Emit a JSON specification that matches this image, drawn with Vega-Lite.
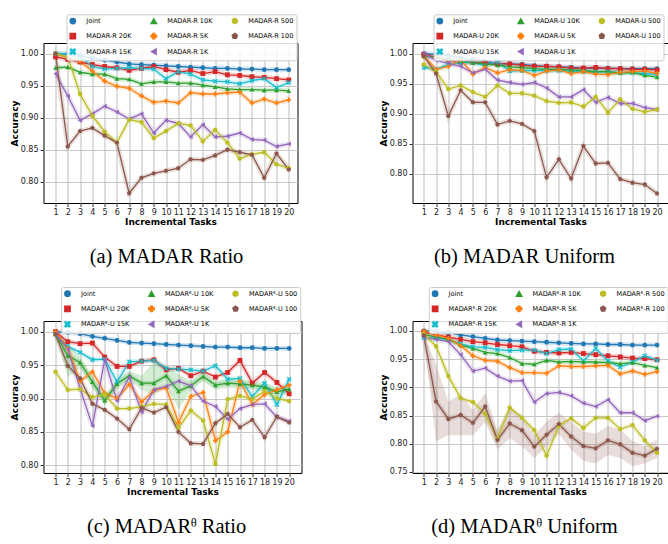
{
"$schema":"https://vega.github.io/schema/vega-lite/v6.json",
"padding":{"left":9.5,"top":13,"right":0,"bottom":0},
"config":{
 "font":"DejaVu Sans",
 "view":{"stroke":"black","strokeWidth":1},
 "axis":{"domain":false,"grid":true,"gridColor":"#c8c8c8","gridWidth":1.2,"tickColor":"#000","tickSize":3.5,"tickWidth":0.8,"labelFont":"DejaVu Sans","labelFontSize":8,"labelColor":"#1a1a1a","labelPadding":2,"titleFont":"DejaVu Sans","titleFontSize":9,"titleFontWeight":"bold","titleColor":"#000"},
 "axisX":{"titlePadding":1,"labelAngle":0,"labelFlush":false},
 "axisY":{"titlePadding":1,"labelFlush":false},
 "legend":{"columns":3,"direction":"vertical","columnPadding":15,"rowPadding":2.5,"padding":2.8,"labelFontSize":6.5,"labelFont":"DejaVu Sans","labelColor":"#000","labelOffset":10,"symbolSize":28,"symbolOpacity":1,"strokeColor":"#cccccc","fillColor":"rgba(255,255,255,0.85)","cornerRadius":2},
 "title":{"orient":"bottom","font":"Liberation Serif","fontSize":20.5,"fontWeight":"normal","color":"#000","offset":20,"anchor":"middle","frame":"group"}
},
"data":{"values":[
{"p":"a","s":"Joint","t":1,"v":1},{"p":"a","s":"Joint","t":2,"v":0.999},{"p":"a","s":"Joint","t":3,"v":0.997},{"p":"a","s":"Joint","t":4,"v":0.993},{"p":"a","s":"Joint","t":5,"v":0.99},{"p":"a","s":"Joint","t":6,"v":0.987},{"p":"a","s":"Joint","t":7,"v":0.984},{"p":"a","s":"Joint","t":8,"v":0.983},{"p":"a","s":"Joint","t":9,"v":0.982},{"p":"a","s":"Joint","t":10,"v":0.981},{"p":"a","s":"Joint","t":11,"v":0.98},{"p":"a","s":"Joint","t":12,"v":0.979},{"p":"a","s":"Joint","t":13,"v":0.978},{"p":"a","s":"Joint","t":14,"v":0.977},{"p":"a","s":"Joint","t":15,"v":0.977},{"p":"a","s":"Joint","t":16,"v":0.976},{"p":"a","s":"Joint","t":17,"v":0.976},{"p":"a","s":"Joint","t":18,"v":0.975},{"p":"a","s":"Joint","t":19,"v":0.975},{"p":"a","s":"Joint","t":20,"v":0.975},
{"p":"a","s":"20K","t":1,"v":0.995},{"p":"a","s":"20K","t":2,"v":0.991},{"p":"a","s":"20K","t":3,"v":0.987},{"p":"a","s":"20K","t":4,"v":0.983},{"p":"a","s":"20K","t":5,"v":0.98},{"p":"a","s":"20K","t":6,"v":0.978},{"p":"a","s":"20K","t":7,"v":0.974},{"p":"a","s":"20K","t":8,"v":0.977},{"p":"a","s":"20K","t":9,"v":0.98},{"p":"a","s":"20K","t":10,"v":0.975},{"p":"a","s":"20K","t":11,"v":0.971},{"p":"a","s":"20K","t":12,"v":0.974},{"p":"a","s":"20K","t":13,"v":0.969},{"p":"a","s":"20K","t":14,"v":0.972},{"p":"a","s":"20K","t":15,"v":0.967},{"p":"a","s":"20K","t":16,"v":0.966},{"p":"a","s":"20K","t":17,"v":0.964},{"p":"a","s":"20K","t":18,"v":0.963},{"p":"a","s":"20K","t":19,"v":0.961},{"p":"a","s":"20K","t":20,"v":0.959},
{"p":"a","s":"15K","t":1,"v":1},{"p":"a","s":"15K","t":2,"v":0.999},{"p":"a","s":"15K","t":3,"v":0.996},{"p":"a","s":"15K","t":4,"v":0.98},{"p":"a","s":"15K","t":5,"v":0.976},{"p":"a","s":"15K","t":6,"v":0.977},{"p":"a","s":"15K","t":7,"v":0.978},{"p":"a","s":"15K","t":8,"v":0.977},{"p":"a","s":"15K","t":9,"v":0.976},{"p":"a","s":"15K","t":10,"v":0.961},{"p":"a","s":"15K","t":11,"v":0.972},{"p":"a","s":"15K","t":12,"v":0.968},{"p":"a","s":"15K","t":13,"v":0.959},{"p":"a","s":"15K","t":14,"v":0.957},{"p":"a","s":"15K","t":15,"v":0.956},{"p":"a","s":"15K","t":16,"v":0.953},{"p":"a","s":"15K","t":17,"v":0.958},{"p":"a","s":"15K","t":18,"v":0.961},{"p":"a","s":"15K","t":19,"v":0.947},{"p":"a","s":"15K","t":20,"v":0.955},
{"p":"a","s":"10K","t":1,"v":0.978},{"p":"a","s":"10K","t":2,"v":0.979},{"p":"a","s":"10K","t":3,"v":0.971},{"p":"a","s":"10K","t":4,"v":0.968},{"p":"a","s":"10K","t":5,"v":0.968},{"p":"a","s":"10K","t":6,"v":0.961},{"p":"a","s":"10K","t":7,"v":0.96},{"p":"a","s":"10K","t":8,"v":0.953},{"p":"a","s":"10K","t":9,"v":0.956},{"p":"a","s":"10K","t":10,"v":0.956},{"p":"a","s":"10K","t":11,"v":0.954},{"p":"a","s":"10K","t":12,"v":0.954},{"p":"a","s":"10K","t":13,"v":0.951},{"p":"a","s":"10K","t":14,"v":0.948},{"p":"a","s":"10K","t":15,"v":0.945},{"p":"a","s":"10K","t":16,"v":0.944},{"p":"a","s":"10K","t":17,"v":0.944},{"p":"a","s":"10K","t":18,"v":0.943},{"p":"a","s":"10K","t":19,"v":0.943},{"p":"a","s":"10K","t":20,"v":0.942},
{"p":"a","s":"5K","t":1,"v":1},{"p":"a","s":"5K","t":2,"v":0.994},{"p":"a","s":"5K","t":3,"v":0.988},{"p":"a","s":"5K","t":4,"v":0.973},{"p":"a","s":"5K","t":5,"v":0.957},{"p":"a","s":"5K","t":6,"v":0.949},{"p":"a","s":"5K","t":7,"v":0.946},{"p":"a","s":"5K","t":8,"v":0.934},{"p":"a","s":"5K","t":9,"v":0.924},{"p":"a","s":"5K","t":10,"v":0.926},{"p":"a","s":"5K","t":11,"v":0.923},{"p":"a","s":"5K","t":12,"v":0.939},{"p":"a","s":"5K","t":13,"v":0.937},{"p":"a","s":"5K","t":14,"v":0.937},{"p":"a","s":"5K","t":15,"v":0.939},{"p":"a","s":"5K","t":16,"v":0.94},{"p":"a","s":"5K","t":17,"v":0.923},{"p":"a","s":"5K","t":18,"v":0.929},{"p":"a","s":"5K","t":19,"v":0.923},{"p":"a","s":"5K","t":20,"v":0.928},
{"p":"a","s":"1K","t":1,"v":0.969},{"p":"a","s":"1K","t":2,"v":0.934},{"p":"a","s":"1K","t":3,"v":0.896},{"p":"a","s":"1K","t":4,"v":0.906},{"p":"a","s":"1K","t":5,"v":0.918},{"p":"a","s":"1K","t":6,"v":0.909},{"p":"a","s":"1K","t":7,"v":0.898},{"p":"a","s":"1K","t":8,"v":0.906},{"p":"a","s":"1K","t":9,"v":0.876},{"p":"a","s":"1K","t":10,"v":0.896},{"p":"a","s":"1K","t":11,"v":0.891},{"p":"a","s":"1K","t":12,"v":0.87},{"p":"a","s":"1K","t":13,"v":0.889},{"p":"a","s":"1K","t":14,"v":0.87},{"p":"a","s":"1K","t":15,"v":0.871},{"p":"a","s":"1K","t":16,"v":0.876},{"p":"a","s":"1K","t":17,"v":0.866},{"p":"a","s":"1K","t":18,"v":0.865},{"p":"a","s":"1K","t":19,"v":0.855},{"p":"a","s":"1K","t":20,"v":0.859},
{"p":"a","s":"500","t":1,"v":1},{"p":"a","s":"500","t":2,"v":0.995},{"p":"a","s":"500","t":3,"v":0.937},{"p":"a","s":"500","t":4,"v":0.903},{"p":"a","s":"500","t":5,"v":0.878},{"p":"a","s":"500","t":6,"v":0.861},{"p":"a","s":"500","t":7,"v":0.897},{"p":"a","s":"500","t":8,"v":0.893},{"p":"a","s":"500","t":9,"v":0.868},{"p":"a","s":"500","t":10,"v":0.879},{"p":"a","s":"500","t":11,"v":0.891},{"p":"a","s":"500","t":12,"v":0.888},{"p":"a","s":"500","t":13,"v":0.863},{"p":"a","s":"500","t":14,"v":0.881},{"p":"a","s":"500","t":15,"v":0.861},{"p":"a","s":"500","t":16,"v":0.836},{"p":"a","s":"500","t":17,"v":0.843},{"p":"a","s":"500","t":18,"v":0.846},{"p":"a","s":"500","t":19,"v":0.827},{"p":"a","s":"500","t":20,"v":0.821},
{"p":"a","s":"100","t":1,"v":1},{"p":"a","s":"100","t":2,"v":0.855},{"p":"a","s":"100","t":3,"v":0.879},{"p":"a","s":"100","t":4,"v":0.884},{"p":"a","s":"100","t":5,"v":0.872},{"p":"a","s":"100","t":6,"v":0.861},{"p":"a","s":"100","t":7,"v":0.782},{"p":"a","s":"100","t":8,"v":0.806},{"p":"a","s":"100","t":9,"v":0.813},{"p":"a","s":"100","t":10,"v":0.817},{"p":"a","s":"100","t":11,"v":0.821},{"p":"a","s":"100","t":12,"v":0.835},{"p":"a","s":"100","t":13,"v":0.834},{"p":"a","s":"100","t":14,"v":0.841},{"p":"a","s":"100","t":15,"v":0.85},{"p":"a","s":"100","t":16,"v":0.846},{"p":"a","s":"100","t":17,"v":0.842},{"p":"a","s":"100","t":18,"v":0.806},{"p":"a","s":"100","t":19,"v":0.844},{"p":"a","s":"100","t":20,"v":0.819},
{"p":"b","s":"Joint","t":1,"v":1},{"p":"b","s":"Joint","t":2,"v":0.999},{"p":"b","s":"Joint","t":3,"v":0.997},{"p":"b","s":"Joint","t":4,"v":0.993},{"p":"b","s":"Joint","t":5,"v":0.99},{"p":"b","s":"Joint","t":6,"v":0.987},{"p":"b","s":"Joint","t":7,"v":0.984},{"p":"b","s":"Joint","t":8,"v":0.983},{"p":"b","s":"Joint","t":9,"v":0.982},{"p":"b","s":"Joint","t":10,"v":0.98},{"p":"b","s":"Joint","t":11,"v":0.979},{"p":"b","s":"Joint","t":12,"v":0.978},{"p":"b","s":"Joint","t":13,"v":0.977},{"p":"b","s":"Joint","t":14,"v":0.976},{"p":"b","s":"Joint","t":15,"v":0.976},{"p":"b","s":"Joint","t":16,"v":0.976},{"p":"b","s":"Joint","t":17,"v":0.975},{"p":"b","s":"Joint","t":18,"v":0.975},{"p":"b","s":"Joint","t":19,"v":0.975},{"p":"b","s":"Joint","t":20,"v":0.975},
{"p":"b","s":"20K","t":1,"v":0.999},{"p":"b","s":"20K","t":2,"v":0.994},{"p":"b","s":"20K","t":3,"v":0.989},{"p":"b","s":"20K","t":4,"v":0.986},{"p":"b","s":"20K","t":5,"v":0.986},{"p":"b","s":"20K","t":6,"v":0.984},{"p":"b","s":"20K","t":7,"v":0.983},{"p":"b","s":"20K","t":8,"v":0.983},{"p":"b","s":"20K","t":9,"v":0.981},{"p":"b","s":"20K","t":10,"v":0.979},{"p":"b","s":"20K","t":11,"v":0.979},{"p":"b","s":"20K","t":12,"v":0.978},{"p":"b","s":"20K","t":13,"v":0.976},{"p":"b","s":"20K","t":14,"v":0.976},{"p":"b","s":"20K","t":15,"v":0.977},{"p":"b","s":"20K","t":16,"v":0.975},{"p":"b","s":"20K","t":17,"v":0.975},{"p":"b","s":"20K","t":18,"v":0.974},{"p":"b","s":"20K","t":19,"v":0.974},{"p":"b","s":"20K","t":20,"v":0.973},
{"p":"b","s":"15K","t":1,"v":0.977},{"p":"b","s":"15K","t":2,"v":0.974},{"p":"b","s":"15K","t":3,"v":0.982},{"p":"b","s":"15K","t":4,"v":0.985},{"p":"b","s":"15K","t":5,"v":0.985},{"p":"b","s":"15K","t":6,"v":0.98},{"p":"b","s":"15K","t":7,"v":0.987},{"p":"b","s":"15K","t":8,"v":0.971},{"p":"b","s":"15K","t":9,"v":0.972},{"p":"b","s":"15K","t":10,"v":0.972},{"p":"b","s":"15K","t":11,"v":0.972},{"p":"b","s":"15K","t":12,"v":0.972},{"p":"b","s":"15K","t":13,"v":0.971},{"p":"b","s":"15K","t":14,"v":0.97},{"p":"b","s":"15K","t":15,"v":0.969},{"p":"b","s":"15K","t":16,"v":0.97},{"p":"b","s":"15K","t":17,"v":0.968},{"p":"b","s":"15K","t":18,"v":0.968},{"p":"b","s":"15K","t":19,"v":0.967},{"p":"b","s":"15K","t":20,"v":0.965},
{"p":"b","s":"10K","t":1,"v":0.996},{"p":"b","s":"10K","t":2,"v":0.994},{"p":"b","s":"10K","t":3,"v":0.991},{"p":"b","s":"10K","t":4,"v":0.988},{"p":"b","s":"10K","t":5,"v":0.985},{"p":"b","s":"10K","t":6,"v":0.983},{"p":"b","s":"10K","t":7,"v":0.981},{"p":"b","s":"10K","t":8,"v":0.978},{"p":"b","s":"10K","t":9,"v":0.977},{"p":"b","s":"10K","t":10,"v":0.975},{"p":"b","s":"10K","t":11,"v":0.974},{"p":"b","s":"10K","t":12,"v":0.974},{"p":"b","s":"10K","t":13,"v":0.973},{"p":"b","s":"10K","t":14,"v":0.972},{"p":"b","s":"10K","t":15,"v":0.97},{"p":"b","s":"10K","t":16,"v":0.97},{"p":"b","s":"10K","t":17,"v":0.968},{"p":"b","s":"10K","t":18,"v":0.969},{"p":"b","s":"10K","t":19,"v":0.964},{"p":"b","s":"10K","t":20,"v":0.961},
{"p":"b","s":"5K","t":1,"v":0.996},{"p":"b","s":"5K","t":2,"v":0.974},{"p":"b","s":"5K","t":3,"v":0.979},{"p":"b","s":"5K","t":4,"v":0.99},{"p":"b","s":"5K","t":5,"v":0.966},{"p":"b","s":"5K","t":6,"v":0.977},{"p":"b","s":"5K","t":7,"v":0.968},{"p":"b","s":"5K","t":8,"v":0.973},{"p":"b","s":"5K","t":9,"v":0.972},{"p":"b","s":"5K","t":10,"v":0.964},{"p":"b","s":"5K","t":11,"v":0.971},{"p":"b","s":"5K","t":12,"v":0.973},{"p":"b","s":"5K","t":13,"v":0.967},{"p":"b","s":"5K","t":14,"v":0.97},{"p":"b","s":"5K","t":15,"v":0.966},{"p":"b","s":"5K","t":16,"v":0.965},{"p":"b","s":"5K","t":17,"v":0.969},{"p":"b","s":"5K","t":18,"v":0.97},{"p":"b","s":"5K","t":19,"v":0.971},{"p":"b","s":"5K","t":20,"v":0.967},
{"p":"b","s":"1K","t":1,"v":1},{"p":"b","s":"1K","t":2,"v":0.989},{"p":"b","s":"1K","t":3,"v":0.984},{"p":"b","s":"1K","t":4,"v":0.979},{"p":"b","s":"1K","t":5,"v":0.968},{"p":"b","s":"1K","t":6,"v":0.974},{"p":"b","s":"1K","t":7,"v":0.956},{"p":"b","s":"1K","t":8,"v":0.952},{"p":"b","s":"1K","t":9,"v":0.949},{"p":"b","s":"1K","t":10,"v":0.952},{"p":"b","s":"1K","t":11,"v":0.943},{"p":"b","s":"1K","t":12,"v":0.928},{"p":"b","s":"1K","t":13,"v":0.928},{"p":"b","s":"1K","t":14,"v":0.94},{"p":"b","s":"1K","t":15,"v":0.919},{"p":"b","s":"1K","t":16,"v":0.927},{"p":"b","s":"1K","t":17,"v":0.917},{"p":"b","s":"1K","t":18,"v":0.917},{"p":"b","s":"1K","t":19,"v":0.91},{"p":"b","s":"1K","t":20,"v":0.907},
{"p":"b","s":"500","t":1,"v":0.982},{"p":"b","s":"500","t":2,"v":0.97},{"p":"b","s":"500","t":3,"v":0.941},{"p":"b","s":"500","t":4,"v":0.947},{"p":"b","s":"500","t":5,"v":0.936},{"p":"b","s":"500","t":6,"v":0.928},{"p":"b","s":"500","t":7,"v":0.947},{"p":"b","s":"500","t":8,"v":0.934},{"p":"b","s":"500","t":9,"v":0.934},{"p":"b","s":"500","t":10,"v":0.93},{"p":"b","s":"500","t":11,"v":0.921},{"p":"b","s":"500","t":12,"v":0.918},{"p":"b","s":"500","t":13,"v":0.919},{"p":"b","s":"500","t":14,"v":0.912},{"p":"b","s":"500","t":15,"v":0.928},{"p":"b","s":"500","t":16,"v":0.902},{"p":"b","s":"500","t":17,"v":0.924},{"p":"b","s":"500","t":18,"v":0.908},{"p":"b","s":"500","t":19,"v":0.903},{"p":"b","s":"500","t":20,"v":0.907},
{"p":"b","s":"100","t":1,"v":0.996},{"p":"b","s":"100","t":2,"v":0.967},{"p":"b","s":"100","t":3,"v":0.896},{"p":"b","s":"100","t":4,"v":0.939},{"p":"b","s":"100","t":5,"v":0.919},{"p":"b","s":"100","t":6,"v":0.919},{"p":"b","s":"100","t":7,"v":0.882},{"p":"b","s":"100","t":8,"v":0.888},{"p":"b","s":"100","t":9,"v":0.883},{"p":"b","s":"100","t":10,"v":0.871},{"p":"b","s":"100","t":11,"v":0.794},{"p":"b","s":"100","t":12,"v":0.824},{"p":"b","s":"100","t":13,"v":0.792},{"p":"b","s":"100","t":14,"v":0.846},{"p":"b","s":"100","t":15,"v":0.817},{"p":"b","s":"100","t":16,"v":0.818},{"p":"b","s":"100","t":17,"v":0.791},{"p":"b","s":"100","t":18,"v":0.785},{"p":"b","s":"100","t":19,"v":0.782},{"p":"b","s":"100","t":20,"v":0.767},
{"p":"c","s":"Joint","t":1,"v":1},{"p":"c","s":"Joint","t":2,"v":0.999},{"p":"c","s":"Joint","t":3,"v":0.997},{"p":"c","s":"Joint","t":4,"v":0.993},{"p":"c","s":"Joint","t":5,"v":0.99},{"p":"c","s":"Joint","t":6,"v":0.987},{"p":"c","s":"Joint","t":7,"v":0.984},{"p":"c","s":"Joint","t":8,"v":0.983},{"p":"c","s":"Joint","t":9,"v":0.982},{"p":"c","s":"Joint","t":10,"v":0.981},{"p":"c","s":"Joint","t":11,"v":0.98},{"p":"c","s":"Joint","t":12,"v":0.979},{"p":"c","s":"Joint","t":13,"v":0.978},{"p":"c","s":"Joint","t":14,"v":0.977},{"p":"c","s":"Joint","t":15,"v":0.977},{"p":"c","s":"Joint","t":16,"v":0.976},{"p":"c","s":"Joint","t":17,"v":0.976},{"p":"c","s":"Joint","t":18,"v":0.975},{"p":"c","s":"Joint","t":19,"v":0.975},{"p":"c","s":"Joint","t":20,"v":0.975},
{"p":"c","s":"20K","t":1,"v":1},{"p":"c","s":"20K","t":2,"v":0.985},{"p":"c","s":"20K","t":3,"v":0.982},{"p":"c","s":"20K","t":4,"v":0.983},{"p":"c","s":"20K","t":5,"v":0.962},{"p":"c","s":"20K","t":6,"v":0.948},{"p":"c","s":"20K","t":7,"v":0.948},{"p":"c","s":"20K","t":8,"v":0.956},{"p":"c","s":"20K","t":9,"v":0.958},{"p":"c","s":"20K","t":10,"v":0.943},{"p":"c","s":"20K","t":11,"v":0.945},{"p":"c","s":"20K","t":12,"v":0.934},{"p":"c","s":"20K","t":13,"v":0.941},{"p":"c","s":"20K","t":14,"v":0.932},{"p":"c","s":"20K","t":15,"v":0.939},{"p":"c","s":"20K","t":16,"v":0.957},{"p":"c","s":"20K","t":17,"v":0.923},{"p":"c","s":"20K","t":18,"v":0.939},{"p":"c","s":"20K","t":19,"v":0.924},{"p":"c","s":"20K","t":20,"v":0.907},
{"p":"c","s":"15K","t":1,"v":0.996},{"p":"c","s":"15K","t":2,"v":0.978},{"p":"c","s":"15K","t":3,"v":0.969},{"p":"c","s":"15K","t":4,"v":0.958},{"p":"c","s":"15K","t":5,"v":0.959},{"p":"c","s":"15K","t":6,"v":0.925},{"p":"c","s":"15K","t":7,"v":0.955},{"p":"c","s":"15K","t":8,"v":0.956},{"p":"c","s":"15K","t":9,"v":0.957},{"p":"c","s":"15K","t":10,"v":0.945},{"p":"c","s":"15K","t":11,"v":0.944},{"p":"c","s":"15K","t":12,"v":0.943},{"p":"c","s":"15K","t":13,"v":0.941},{"p":"c","s":"15K","t":14,"v":0.949},{"p":"c","s":"15K","t":15,"v":0.929},{"p":"c","s":"15K","t":16,"v":0.93},{"p":"c","s":"15K","t":17,"v":0.903},{"p":"c","s":"15K","t":18,"v":0.923},{"p":"c","s":"15K","t":19,"v":0.891},{"p":"c","s":"15K","t":20,"v":0.929},
{"p":"c","s":"10K","t":1,"v":0.997,"lo":0.994,"hi":0.999},{"p":"c","s":"10K","t":2,"v":0.964,"lo":0.932,"hi":0.982},{"p":"c","s":"10K","t":3,"v":0.954,"lo":0.945,"hi":0.963},{"p":"c","s":"10K","t":4,"v":0.925,"lo":0.916,"hi":0.934},{"p":"c","s":"10K","t":5,"v":0.897,"lo":0.89,"hi":0.905},{"p":"c","s":"10K","t":6,"v":0.922,"lo":0.914,"hi":0.93},{"p":"c","s":"10K","t":7,"v":0.934,"lo":0.927,"hi":0.941},{"p":"c","s":"10K","t":8,"v":0.923,"lo":0.913,"hi":0.934},{"p":"c","s":"10K","t":9,"v":0.923,"lo":0.905,"hi":0.955},{"p":"c","s":"10K","t":10,"v":0.934,"lo":0.918,"hi":0.948},{"p":"c","s":"10K","t":11,"v":0.911,"lo":0.884,"hi":0.936},{"p":"c","s":"10K","t":12,"v":0.919,"lo":0.911,"hi":0.927},{"p":"c","s":"10K","t":13,"v":0.933,"lo":0.926,"hi":0.94},{"p":"c","s":"10K","t":14,"v":0.92,"lo":0.913,"hi":0.927},{"p":"c","s":"10K","t":15,"v":0.923,"lo":0.916,"hi":0.93},{"p":"c","s":"10K","t":16,"v":0.922,"lo":0.915,"hi":0.929},{"p":"c","s":"10K","t":17,"v":0.92,"lo":0.913,"hi":0.927},{"p":"c","s":"10K","t":18,"v":0.917,"lo":0.91,"hi":0.924},{"p":"c","s":"10K","t":19,"v":0.91,"lo":0.903,"hi":0.917},{"p":"c","s":"10K","t":20,"v":0.914,"lo":0.907,"hi":0.921},
{"p":"c","s":"5K","t":1,"v":1},{"p":"c","s":"5K","t":2,"v":0.975},{"p":"c","s":"5K","t":3,"v":0.926},{"p":"c","s":"5K","t":4,"v":0.94},{"p":"c","s":"5K","t":5,"v":0.908},{"p":"c","s":"5K","t":6,"v":0.9},{"p":"c","s":"5K","t":7,"v":0.921},{"p":"c","s":"5K","t":8,"v":0.895},{"p":"c","s":"5K","t":9,"v":0.912},{"p":"c","s":"5K","t":10,"v":0.916},{"p":"c","s":"5K","t":11,"v":0.864},{"p":"c","s":"5K","t":12,"v":0.903},{"p":"c","s":"5K","t":13,"v":0.909},{"p":"c","s":"5K","t":14,"v":0.837},{"p":"c","s":"5K","t":15,"v":0.85},{"p":"c","s":"5K","t":16,"v":0.926},{"p":"c","s":"5K","t":17,"v":0.891},{"p":"c","s":"5K","t":18,"v":0.906},{"p":"c","s":"5K","t":19,"v":0.913},{"p":"c","s":"5K","t":20,"v":0.92},
{"p":"c","s":"1K","t":1,"v":0.997},{"p":"c","s":"1K","t":2,"v":0.974},{"p":"c","s":"1K","t":3,"v":0.915},{"p":"c","s":"1K","t":4,"v":0.859},{"p":"c","s":"1K","t":5,"v":0.958},{"p":"c","s":"1K","t":6,"v":0.897},{"p":"c","s":"1K","t":7,"v":0.932},{"p":"c","s":"1K","t":8,"v":0.88},{"p":"c","s":"1K","t":9,"v":0.913},{"p":"c","s":"1K","t":10,"v":0.918},{"p":"c","s":"1K","t":11,"v":0.926},{"p":"c","s":"1K","t":12,"v":0.919},{"p":"c","s":"1K","t":13,"v":0.896},{"p":"c","s":"1K","t":14,"v":0.888},{"p":"c","s":"1K","t":15,"v":0.869},{"p":"c","s":"1K","t":16,"v":0.885},{"p":"c","s":"1K","t":17,"v":0.891},{"p":"c","s":"1K","t":18,"v":0.892},{"p":"c","s":"1K","t":19,"v":0.872},{"p":"c","s":"1K","t":20,"v":0.866},
{"p":"c","s":"500","t":1,"v":0.94},{"p":"c","s":"500","t":2,"v":0.913},{"p":"c","s":"500","t":3,"v":0.914},{"p":"c","s":"500","t":4,"v":0.902},{"p":"c","s":"500","t":5,"v":0.906},{"p":"c","s":"500","t":6,"v":0.885},{"p":"c","s":"500","t":7,"v":0.885},{"p":"c","s":"500","t":8,"v":0.888},{"p":"c","s":"500","t":9,"v":0.892},{"p":"c","s":"500","t":10,"v":0.891},{"p":"c","s":"500","t":11,"v":0.856},{"p":"c","s":"500","t":12,"v":0.882},{"p":"c","s":"500","t":13,"v":0.867},{"p":"c","s":"500","t":14,"v":0.802},{"p":"c","s":"500","t":15,"v":0.899},{"p":"c","s":"500","t":16,"v":0.904},{"p":"c","s":"500","t":17,"v":0.899},{"p":"c","s":"500","t":18,"v":0.911},{"p":"c","s":"500","t":19,"v":0.9},{"p":"c","s":"500","t":20,"v":0.896},
{"p":"c","s":"100","t":1,"v":0.996},{"p":"c","s":"100","t":2,"v":0.949},{"p":"c","s":"100","t":3,"v":0.93},{"p":"c","s":"100","t":4,"v":0.892},{"p":"c","s":"100","t":5,"v":0.883},{"p":"c","s":"100","t":6,"v":0.87},{"p":"c","s":"100","t":7,"v":0.854},{"p":"c","s":"100","t":8,"v":0.886},{"p":"c","s":"100","t":9,"v":0.879},{"p":"c","s":"100","t":10,"v":0.887},{"p":"c","s":"100","t":11,"v":0.85},{"p":"c","s":"100","t":12,"v":0.833},{"p":"c","s":"100","t":13,"v":0.832},{"p":"c","s":"100","t":14,"v":0.863},{"p":"c","s":"100","t":15,"v":0.877},{"p":"c","s":"100","t":16,"v":0.857},{"p":"c","s":"100","t":17,"v":0.868},{"p":"c","s":"100","t":18,"v":0.842},{"p":"c","s":"100","t":19,"v":0.873},{"p":"c","s":"100","t":20,"v":0.864},
{"p":"d","s":"Joint","t":1,"v":1},{"p":"d","s":"Joint","t":2,"v":0.999},{"p":"d","s":"Joint","t":3,"v":0.997},{"p":"d","s":"Joint","t":4,"v":0.993},{"p":"d","s":"Joint","t":5,"v":0.99},{"p":"d","s":"Joint","t":6,"v":0.987},{"p":"d","s":"Joint","t":7,"v":0.984},{"p":"d","s":"Joint","t":8,"v":0.983},{"p":"d","s":"Joint","t":9,"v":0.982},{"p":"d","s":"Joint","t":10,"v":0.981},{"p":"d","s":"Joint","t":11,"v":0.98},{"p":"d","s":"Joint","t":12,"v":0.979},{"p":"d","s":"Joint","t":13,"v":0.978},{"p":"d","s":"Joint","t":14,"v":0.977},{"p":"d","s":"Joint","t":15,"v":0.977},{"p":"d","s":"Joint","t":16,"v":0.976},{"p":"d","s":"Joint","t":17,"v":0.976},{"p":"d","s":"Joint","t":18,"v":0.975},{"p":"d","s":"Joint","t":19,"v":0.975},{"p":"d","s":"Joint","t":20,"v":0.975},
{"p":"d","s":"20K","t":1,"v":0.998},{"p":"d","s":"20K","t":2,"v":0.993},{"p":"d","s":"20K","t":3,"v":0.989},{"p":"d","s":"20K","t":4,"v":0.985},{"p":"d","s":"20K","t":5,"v":0.981},{"p":"d","s":"20K","t":6,"v":0.979},{"p":"d","s":"20K","t":7,"v":0.976},{"p":"d","s":"20K","t":8,"v":0.974},{"p":"d","s":"20K","t":9,"v":0.972},{"p":"d","s":"20K","t":10,"v":0.964},{"p":"d","s":"20K","t":11,"v":0.962},{"p":"d","s":"20K","t":12,"v":0.961},{"p":"d","s":"20K","t":13,"v":0.962},{"p":"d","s":"20K","t":14,"v":0.96},{"p":"d","s":"20K","t":15,"v":0.958},{"p":"d","s":"20K","t":16,"v":0.956},{"p":"d","s":"20K","t":17,"v":0.954},{"p":"d","s":"20K","t":18,"v":0.952},{"p":"d","s":"20K","t":19,"v":0.951},{"p":"d","s":"20K","t":20,"v":0.949},
{"p":"d","s":"15K","t":1,"v":0.988},{"p":"d","s":"15K","t":2,"v":0.987},{"p":"d","s":"15K","t":3,"v":0.985},{"p":"d","s":"15K","t":4,"v":0.977},{"p":"d","s":"15K","t":5,"v":0.972},{"p":"d","s":"15K","t":6,"v":0.971},{"p":"d","s":"15K","t":7,"v":0.967},{"p":"d","s":"15K","t":8,"v":0.965},{"p":"d","s":"15K","t":9,"v":0.966},{"p":"d","s":"15K","t":10,"v":0.966},{"p":"d","s":"15K","t":11,"v":0.96},{"p":"d","s":"15K","t":12,"v":0.967},{"p":"d","s":"15K","t":13,"v":0.968},{"p":"d","s":"15K","t":14,"v":0.947},{"p":"d","s":"15K","t":15,"v":0.969},{"p":"d","s":"15K","t":16,"v":0.947},{"p":"d","s":"15K","t":17,"v":0.936},{"p":"d","s":"15K","t":18,"v":0.945},{"p":"d","s":"15K","t":19,"v":0.956},{"p":"d","s":"15K","t":20,"v":0.948},
{"p":"d","s":"10K","t":1,"v":0.994},{"p":"d","s":"10K","t":2,"v":0.989},{"p":"d","s":"10K","t":3,"v":0.985},{"p":"d","s":"10K","t":4,"v":0.975},{"p":"d","s":"10K","t":5,"v":0.969},{"p":"d","s":"10K","t":6,"v":0.962},{"p":"d","s":"10K","t":7,"v":0.96},{"p":"d","s":"10K","t":8,"v":0.953},{"p":"d","s":"10K","t":9,"v":0.942},{"p":"d","s":"10K","t":10,"v":0.941},{"p":"d","s":"10K","t":11,"v":0.948},{"p":"d","s":"10K","t":12,"v":0.945},{"p":"d","s":"10K","t":13,"v":0.946},{"p":"d","s":"10K","t":14,"v":0.945},{"p":"d","s":"10K","t":15,"v":0.945},{"p":"d","s":"10K","t":16,"v":0.944},{"p":"d","s":"10K","t":17,"v":0.942},{"p":"d","s":"10K","t":18,"v":0.944},{"p":"d","s":"10K","t":19,"v":0.939},{"p":"d","s":"10K","t":20,"v":0.935},
{"p":"d","s":"5K","t":1,"v":1},{"p":"d","s":"5K","t":2,"v":0.993},{"p":"d","s":"5K","t":3,"v":0.987},{"p":"d","s":"5K","t":4,"v":0.974},{"p":"d","s":"5K","t":5,"v":0.956},{"p":"d","s":"5K","t":6,"v":0.948},{"p":"d","s":"5K","t":7,"v":0.946},{"p":"d","s":"5K","t":8,"v":0.935},{"p":"d","s":"5K","t":9,"v":0.926},{"p":"d","s":"5K","t":10,"v":0.926},{"p":"d","s":"5K","t":11,"v":0.925},{"p":"d","s":"5K","t":12,"v":0.938},{"p":"d","s":"5K","t":13,"v":0.937},{"p":"d","s":"5K","t":14,"v":0.937},{"p":"d","s":"5K","t":15,"v":0.938},{"p":"d","s":"5K","t":16,"v":0.939},{"p":"d","s":"5K","t":17,"v":0.924},{"p":"d","s":"5K","t":18,"v":0.929},{"p":"d","s":"5K","t":19,"v":0.923},{"p":"d","s":"5K","t":20,"v":0.928},
{"p":"d","s":"1K","t":1,"v":0.989},{"p":"d","s":"1K","t":2,"v":0.985},{"p":"d","s":"1K","t":3,"v":0.981},{"p":"d","s":"1K","t":4,"v":0.958},{"p":"d","s":"1K","t":5,"v":0.929},{"p":"d","s":"1K","t":6,"v":0.934},{"p":"d","s":"1K","t":7,"v":0.92},{"p":"d","s":"1K","t":8,"v":0.911},{"p":"d","s":"1K","t":9,"v":0.912},{"p":"d","s":"1K","t":10,"v":0.874},{"p":"d","s":"1K","t":11,"v":0.889},{"p":"d","s":"1K","t":12,"v":0.891},{"p":"d","s":"1K","t":13,"v":0.885},{"p":"d","s":"1K","t":14,"v":0.872},{"p":"d","s":"1K","t":15,"v":0.866},{"p":"d","s":"1K","t":16,"v":0.878},{"p":"d","s":"1K","t":17,"v":0.855},{"p":"d","s":"1K","t":18,"v":0.855},{"p":"d","s":"1K","t":19,"v":0.841},{"p":"d","s":"1K","t":20,"v":0.849},
{"p":"d","s":"500","t":1,"v":0.995},{"p":"d","s":"500","t":2,"v":0.973},{"p":"d","s":"500","t":3,"v":0.92},{"p":"d","s":"500","t":4,"v":0.881},{"p":"d","s":"500","t":5,"v":0.874},{"p":"d","s":"500","t":6,"v":0.853},{"p":"d","s":"500","t":7,"v":0.809},{"p":"d","s":"500","t":8,"v":0.864},{"p":"d","s":"500","t":9,"v":0.846},{"p":"d","s":"500","t":10,"v":0.824},{"p":"d","s":"500","t":11,"v":0.779},{"p":"d","s":"500","t":12,"v":0.832},{"p":"d","s":"500","t":13,"v":0.845},{"p":"d","s":"500","t":14,"v":0.828},{"p":"d","s":"500","t":15,"v":0.846},{"p":"d","s":"500","t":16,"v":0.846},{"p":"d","s":"500","t":17,"v":0.826},{"p":"d","s":"500","t":18,"v":0.833},{"p":"d","s":"500","t":19,"v":0.806},{"p":"d","s":"500","t":20,"v":0.784},
{"p":"d","s":"100","t":1,"v":0.992,"lo":0.986,"hi":0.996},{"p":"d","s":"100","t":2,"v":0.875,"lo":0.805,"hi":0.94},{"p":"d","s":"100","t":3,"v":0.844,"lo":0.815,"hi":0.875},{"p":"d","s":"100","t":4,"v":0.851,"lo":0.815,"hi":0.888},{"p":"d","s":"100","t":5,"v":0.837,"lo":0.815,"hi":0.86},{"p":"d","s":"100","t":6,"v":0.866,"lo":0.838,"hi":0.89},{"p":"d","s":"100","t":7,"v":0.807,"lo":0.79,"hi":0.825},{"p":"d","s":"100","t":8,"v":0.836,"lo":0.81,"hi":0.865},{"p":"d","s":"100","t":9,"v":0.824,"lo":0.795,"hi":0.85},{"p":"d","s":"100","t":10,"v":0.795,"lo":0.775,"hi":0.815},{"p":"d","s":"100","t":11,"v":0.816,"lo":0.795,"hi":0.84},{"p":"d","s":"100","t":12,"v":0.835,"lo":0.818,"hi":0.855},{"p":"d","s":"100","t":13,"v":0.813,"lo":0.79,"hi":0.838},{"p":"d","s":"100","t":14,"v":0.796,"lo":0.77,"hi":0.822},{"p":"d","s":"100","t":15,"v":0.792,"lo":0.765,"hi":0.818},{"p":"d","s":"100","t":16,"v":0.806,"lo":0.78,"hi":0.832},{"p":"d","s":"100","t":17,"v":0.799,"lo":0.775,"hi":0.825},{"p":"d","s":"100","t":18,"v":0.784,"lo":0.76,"hi":0.805},{"p":"d","s":"100","t":19,"v":0.779,"lo":0.765,"hi":0.795},{"p":"d","s":"100","t":20,"v":0.791,"lo":0.775,"hi":0.808}
]},
"columns":2,
"spacing":{"row":118,"column":111},
"bounds":"flush",
"resolve":{"legend":{"color":"independent","shape":"independent"}},
"concat":[
{
 "width":254,"height":160,
 "title":{"text":"(a) MADAR Ratio","dx":-4},
 "transform":[{"filter":"datum.p=='a'"}],
 "encoding":{
  "x":{"field":"t","type":"quantitative","scale":{"domain":[0.023,20.71],"nice":false,"zero":false},"axis":{"values":[1,2,3,4,5,6,7,8,9,10,11,12,13,14,15,16,17,18,19,20],"format":"d","title":"Incremental Tasks"}},
  "y":{"field":"v","type":"quantitative","scale":{"domain":[0.7667,1.0167],"nice":false,"zero":false},"axis":{"values":[0.8,0.85,0.9,0.95,1],"format":".2f","title":"Accuracy"}},
  "color":{"field":"s","type":"nominal","scale":{"domain":["Joint","20K","15K","10K","5K","1K","500","100"],"range":["#1f77b4","#d62728","#17becf","#2ca02c","#ff7f0e","#9467bd","#bcbd22","#8c564b"]},
   "legend":{"title":null,"orient":"none","legendX":23,"legendY":-28.7,"labelExpr":"datum.value=='Joint'?'Joint':'MADAR-R '+datum.value"}}
 },
 "layer":[
  {"mark":{"type":"line","strokeWidth":5,"opacity":0.18}},
  {"mark":{"type":"line","strokeWidth":1.3}},
  {"mark":{"type":"point","filled":true,"size":23,"opacity":1},"encoding":{"shape":{"field":"s","type":"nominal","scale":{"domain":["Joint","20K","15K","10K","5K","1K","500","100"],"range":["circle","square","M-1,-0.6L-0.6,-1L0,-0.4L0.6,-1L1,-0.6L0.4,0L1,0.6L0.6,1L0,0.4L-0.6,1L-1,0.6L-0.4,0Z","triangle-up","M-0.35,-1H0.35V-0.35H1V0.35H0.35V1H-0.35V0.35H-1V-0.35H-0.35Z","triangle-left","M0,-1L0.866,-0.5L0.866,0.5L0,1L-0.866,0.5L-0.866,-0.5Z","M0,-1L0.951,-0.309L0.588,0.809L-0.588,0.809L-0.951,-0.309Z"]},
   "legend":{"title":null,"orient":"none","legendX":23,"legendY":-28.7,"labelExpr":"datum.value=='Joint'?'Joint':'MADAR-R '+datum.value"}}}}
 ]
},
{
 "width":256,"height":160,
 "title":{"text":"(b) MADAR Uniform","dx":-16},
 "transform":[{"filter":"datum.p=='b'"}],
 "encoding":{
  "x":{"field":"t","type":"quantitative","scale":{"domain":[0.08,20.93],"nice":false,"zero":false},"axis":{"values":[1,2,3,4,5,6,7,8,9,10,11,12,13,14,15,16,17,18,19,20],"format":"d","title":"Incremental Tasks"}},
  "y":{"field":"v","type":"quantitative","scale":{"domain":[0.7512,1.0178],"nice":false,"zero":false},"axis":{"values":[0.8,0.85,0.9,0.95,1],"format":".2f","title":"Accuracy"}},
  "color":{"field":"s","type":"nominal","scale":{"domain":["Joint","20K","15K","10K","5K","1K","500","100"],"range":["#1f77b4","#d62728","#17becf","#2ca02c","#ff7f0e","#9467bd","#bcbd22","#8c564b"]},
   "legend":{"title":null,"orient":"none","legendX":21,"legendY":-28.7,"labelExpr":"datum.value=='Joint'?'Joint':'MADAR-U '+datum.value"}}
 },
 "layer":[
  {"mark":{"type":"line","strokeWidth":5,"opacity":0.18}},
  {"mark":{"type":"line","strokeWidth":1.3}},
  {"mark":{"type":"point","filled":true,"size":23,"opacity":1},"encoding":{"shape":{"field":"s","type":"nominal","scale":{"domain":["Joint","20K","15K","10K","5K","1K","500","100"],"range":["circle","square","M-1,-0.6L-0.6,-1L0,-0.4L0.6,-1L1,-0.6L0.4,0L1,0.6L0.6,1L0,0.4L-0.6,1L-1,0.6L-0.4,0Z","triangle-up","M-0.35,-1H0.35V-0.35H1V0.35H0.35V1H-0.35V0.35H-1V-0.35H-0.35Z","triangle-left","M0,-1L0.866,-0.5L0.866,0.5L0,1L-0.866,0.5L-0.866,-0.5Z","M0,-1L0.951,-0.309L0.588,0.809L-0.588,0.809L-0.951,-0.309Z"]},
   "legend":{"title":null,"orient":"none","legendX":21,"legendY":-28.7,"labelExpr":"datum.value=='Joint'?'Joint':'MADAR-U '+datum.value"}}}}
 ]
},
{
 "width":258,"height":152,
 "title":{"text":"(c) MADARᶿ Ratio","dx":-6},
 "transform":[{"filter":"datum.p=='c'"}],
 "encoding":{
  "x":{"field":"t","type":"quantitative","scale":{"domain":[0.024,21.0],"nice":false,"zero":false},"axis":{"values":[1,2,3,4,5,6,7,8,9,10,11,12,13,14,15,16,17,18,19,20],"format":"d","title":"Incremental Tasks"}},
  "y":{"field":"v","type":"quantitative","scale":{"domain":[0.7885,1.016],"nice":false,"zero":false},"axis":{"values":[0.8,0.85,0.9,0.95,1],"format":".2f","title":"Accuracy"}},
  "color":{"field":"s","type":"nominal","scale":{"domain":["Joint","20K","15K","10K","5K","1K","500","100"],"range":["#1f77b4","#d62728","#17becf","#2ca02c","#ff7f0e","#9467bd","#bcbd22","#8c564b"]},
   "legend":{"title":null,"orient":"none","legendX":17.7,"legendY":-34,"labelExpr":"datum.value=='Joint'?'Joint':'MADARᶿ-U '+datum.value"}}
 },
 "layer":[
  {"mark":{"type":"line","strokeWidth":5,"opacity":0.18}},
  {"transform":[{"filter":"isValid(datum.lo)"}],"mark":{"type":"area","opacity":0.2},"encoding":{"y":{"field":"lo","type":"quantitative","scale":{"domain":[0.7885,1.016],"nice":false,"zero":false},"axis":{"values":[0.8,0.85,0.9,0.95,1],"format":".2f","title":"Accuracy"}},"y2":{"field":"hi"}}},
  {"mark":{"type":"line","strokeWidth":1.3}},
  {"mark":{"type":"point","filled":true,"size":23,"opacity":1},"encoding":{"shape":{"field":"s","type":"nominal","scale":{"domain":["Joint","20K","15K","10K","5K","1K","500","100"],"range":["circle","square","M-1,-0.6L-0.6,-1L0,-0.4L0.6,-1L1,-0.6L0.4,0L1,0.6L0.6,1L0,0.4L-0.6,1L-1,0.6L-0.4,0Z","triangle-up","M-0.35,-1H0.35V-0.35H1V0.35H0.35V1H-0.35V0.35H-1V-0.35H-0.35Z","triangle-left","M0,-1L0.866,-0.5L0.866,0.5L0,1L-0.866,0.5L-0.866,-0.5Z","M0,-1L0.951,-0.309L0.588,0.809L-0.588,0.809L-0.951,-0.309Z"]},
   "legend":{"title":null,"orient":"none","legendX":17.7,"legendY":-34,"labelExpr":"datum.value=='Joint'?'Joint':'MADARᶿ-U '+datum.value"}}}}
 ]
},
{
 "width":256,"height":152,
 "title":{"text":"(d) MADARᶿ Uniform","dx":-16},
 "transform":[{"filter":"datum.p=='d'"}],
 "encoding":{
  "x":{"field":"t","type":"quantitative","scale":{"domain":[0.08,20.93],"nice":false,"zero":false},"axis":{"values":[1,2,3,4,5,6,7,8,9,10,11,12,13,14,15,16,17,18,19,20],"format":"d","title":"Incremental Tasks"}},
  "y":{"field":"v","type":"quantitative","scale":{"domain":[0.7482,1.0177],"nice":false,"zero":false},"axis":{"values":[0.75,0.8,0.85,0.9,0.95,1],"format":".2f","title":"Accuracy"}},
  "color":{"field":"s","type":"nominal","scale":{"domain":["Joint","20K","15K","10K","5K","1K","500","100"],"range":["#1f77b4","#d62728","#17becf","#2ca02c","#ff7f0e","#9467bd","#bcbd22","#8c564b"]},
   "legend":{"title":null,"orient":"none","legendX":16.3,"legendY":-34,"labelExpr":"datum.value=='Joint'?'Joint':'MADARᶿ-R '+datum.value"}}
 },
 "layer":[
  {"mark":{"type":"line","strokeWidth":5,"opacity":0.18}},
  {"transform":[{"filter":"isValid(datum.lo)"}],"mark":{"type":"area","opacity":0.2},"encoding":{"y":{"field":"lo","type":"quantitative","scale":{"domain":[0.7482,1.0177],"nice":false,"zero":false},"axis":{"values":[0.75,0.8,0.85,0.9,0.95,1],"format":".2f","title":"Accuracy"}},"y2":{"field":"hi"}}},
  {"mark":{"type":"line","strokeWidth":1.3}},
  {"mark":{"type":"point","filled":true,"size":23,"opacity":1},"encoding":{"shape":{"field":"s","type":"nominal","scale":{"domain":["Joint","20K","15K","10K","5K","1K","500","100"],"range":["circle","square","M-1,-0.6L-0.6,-1L0,-0.4L0.6,-1L1,-0.6L0.4,0L1,0.6L0.6,1L0,0.4L-0.6,1L-1,0.6L-0.4,0Z","triangle-up","M-0.35,-1H0.35V-0.35H1V0.35H0.35V1H-0.35V0.35H-1V-0.35H-0.35Z","triangle-left","M0,-1L0.866,-0.5L0.866,0.5L0,1L-0.866,0.5L-0.866,-0.5Z","M0,-1L0.951,-0.309L0.588,0.809L-0.588,0.809L-0.951,-0.309Z"]},
   "legend":{"title":null,"orient":"none","legendX":16.3,"legendY":-34,"labelExpr":"datum.value=='Joint'?'Joint':'MADARᶿ-R '+datum.value"}}}}
 ]
}
]
}
